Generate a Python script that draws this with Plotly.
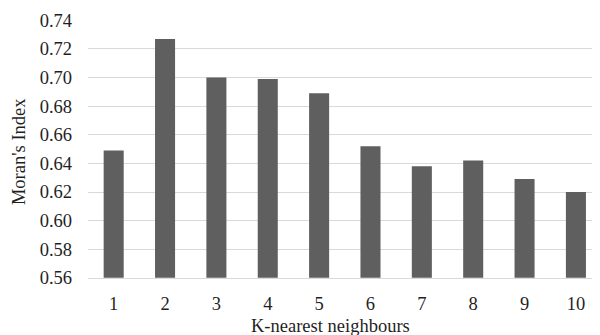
import plotly.graph_objects as go

categories = [1, 2, 3, 4, 5, 6, 7, 8, 9, 10]
tick_labels = ["1", "2", "3", "4", "5", "6", "7", "8", "9", "10"]
morans_index = [0.649, 0.727, 0.700, 0.699, 0.689, 0.652, 0.638, 0.642, 0.629, 0.620]
y_ticks = [0.56, 0.58, 0.60, 0.62, 0.64, 0.66, 0.68, 0.70, 0.72, 0.74]
BASELINE = 0.56

FONT = "Liberation Serif, Times New Roman, serif"
TXT = "#1f1f1f"

W, H = 592, 327
L, T, B = 80, 11.7, 57.3
PW = W - L

fig = go.Figure(go.Bar(
    x=categories, y=[v - BASELINE for v in morans_index], base=BASELINE,
    width=0.39, customdata=morans_index,
    marker=dict(color="#5f5f5f", line=dict(width=0)),
    hovertemplate="%{x}: %{customdata:.3f}<extra></extra>",
))

fig.update_layout(
    width=W, height=H,
    margin=dict(l=L, r=0, t=T, b=B, autoexpand=False),
    paper_bgcolor="white", plot_bgcolor="white",
    font=dict(family=FONT, size=18.5, color=TXT),
    showlegend=False,
    xaxis=dict(
        range=[0.5, 0.5 + PW / 51.36], tickvals=categories, ticktext=tick_labels,
        showgrid=False, showline=True, linecolor="#d9d9d9", linewidth=1,
        ticks="", ticklabelstandoff=9, zeroline=False,
    ),
    yaxis=dict(
        range=[0.5599, 0.7402], tickvals=y_ticks, tickformat=".2f",
        showgrid=True, gridcolor="#d9d9d9", gridwidth=1,
        zeroline=False, showline=False, ticks="", ticklabelstandoff=15,
    ),
    annotations=[
        dict(text="K-nearest neighbours", xref="paper", yref="paper",
             x=(322 - L) / PW, y=-(318.0 - (H - B)) / (H - B - T),
             xanchor="center", yanchor="middle",
             showarrow=False, font=dict(family=FONT, size=18.5, color=TXT)),
        dict(text="Moran's Index", xref="paper", yref="paper",
             x=(10.5 - L) / PW, y=0.49, xanchor="center", yanchor="middle",
             textangle=-90, showarrow=False,
             font=dict(family=FONT, size=18.5, color=TXT)),
    ],
)

fig.write_html("out.html")
